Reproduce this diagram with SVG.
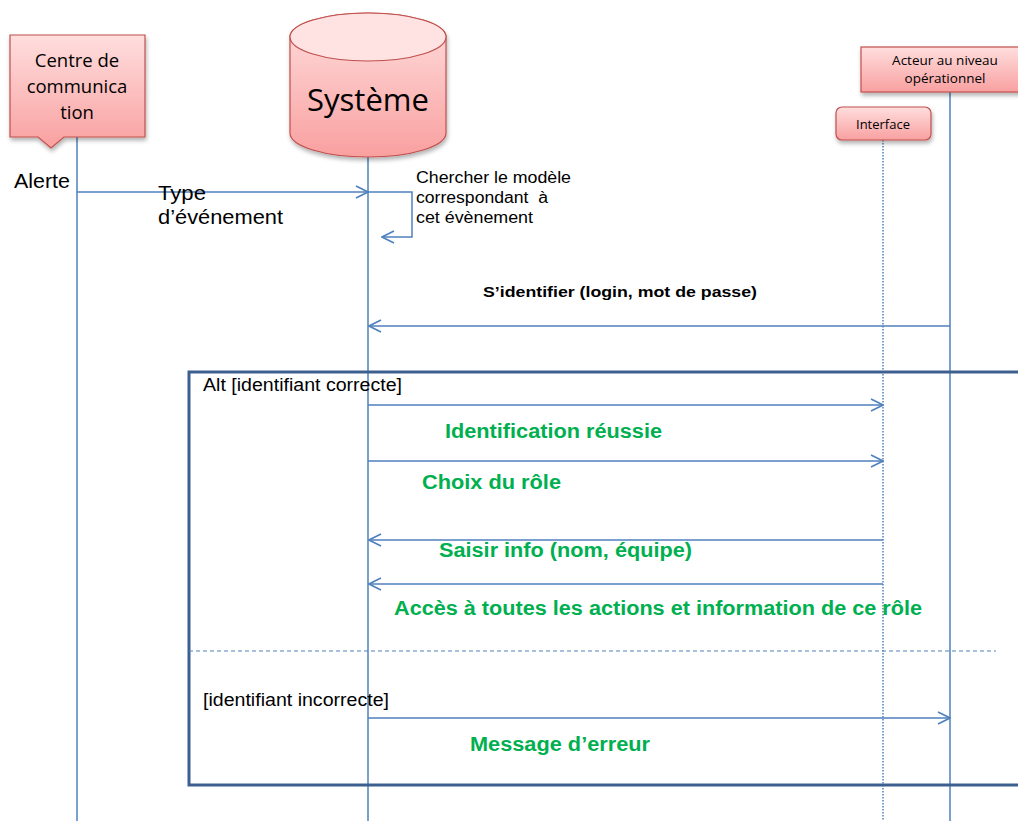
<svg xmlns="http://www.w3.org/2000/svg" width="1018" height="821" viewBox="0 0 1018 821">
<defs>
<linearGradient id="pink" x1="0" y1="0" x2="0" y2="1">
<stop offset="0" stop-color="#ffdede"/>
<stop offset="1" stop-color="#f9a0a0"/>
</linearGradient>
<filter id="sh" x="-20%" y="-20%" width="140%" height="150%">
<feDropShadow dx="1" dy="3" stdDeviation="2" flood-color="#000" flood-opacity="0.3"/>
</filter>
<marker id="arr" viewBox="0 0 14 14" refX="13" refY="7" markerWidth="14" markerHeight="14" markerUnits="userSpaceOnUse" orient="auto">
<path d="M1,1 L13,7 L1,13" fill="none" stroke="#4f81bd" stroke-width="1.6"/>
</marker>
<style>
.node{fill:url(#pink);stroke:#c0504d;stroke-width:1.2;filter:url(#sh)}
.cal{font-family:"Open Sans","Liberation Sans",sans-serif;fill:#000;text-anchor:middle}
.life{stroke:#4f81bd;stroke-width:1.5;fill:none}
.msg{stroke:#4f81bd;stroke-width:1.5;fill:none;marker-end:url(#arr)}
.t{font-family:"Liberation Sans",Arial,sans-serif;fill:#000}
.g{font-family:"Liberation Sans",Arial,sans-serif;fill:#00b050;font-weight:bold;font-size:19.5px}
</style>
</defs>
<rect width="1018" height="821" fill="#fff"/>

<g id="lifelines">
<line class="life" x1="77" y1="137" x2="77" y2="821"/>
<line class="life" x1="368" y1="157" x2="368" y2="821"/>
<line class="life" x1="883" y1="140" x2="883" y2="821" stroke-dasharray="1.5,1.5"/>
<line class="life" x1="950" y1="92" x2="950" y2="821"/>
</g>

<g id="centre">
<path class="node" d="M10,35 H145 V137 H64 L51,148 L38,137 H10 Z"/>
<text class="cal" x="77" y="67" font-size="18.5">Centre de</text>
<text class="cal" x="77" y="93" font-size="18.5">communica</text>
<text class="cal" x="77" y="119" font-size="18.5">tion</text>
</g>

<g id="systeme">
<path class="node" d="M290,37 A78,24 0 0 1 446,37 V133 A78,24 0 0 1 290,133 Z"/>
<ellipse cx="368" cy="37" rx="78" ry="24" fill="#ffe3e3" stroke="#c0504d" stroke-width="1.2"/>
<text class="cal" x="368" y="111" font-size="31">Système</text>
</g>

<g id="acteur">
<rect class="node" x="861" y="47" width="170" height="45"/>
<text class="cal" x="945" y="65" font-size="13.5">Acteur au niveau</text>
<text class="cal" x="945" y="83" font-size="13.5">opérationnel</text>
</g>

<g id="interface">
<rect class="node" x="836" y="107" width="95" height="33" rx="6"/>
<text class="cal" x="883" y="129" font-size="13">Interface</text>
</g>

<g id="frame">
<rect x="189" y="372" width="840" height="413" fill="none" stroke="#3d5f8f" stroke-width="3"/>
<line x1="189" y1="651" x2="996" y2="651" stroke="#4f81bd" stroke-width="1.2" stroke-dasharray="4,3"/>
<text class="t" x="203" y="391" font-size="17.5" textLength="199" lengthAdjust="spacingAndGlyphs">Alt [identifiant correcte]</text>
<text class="t" x="203" y="706" font-size="17.5" textLength="186" lengthAdjust="spacingAndGlyphs">[identifiant incorrecte]</text>
</g>

<g id="connectors">
<line class="msg" x1="77" y1="192" x2="368" y2="192"/>
<path class="msg" d="M368,192 H412 V237 H382"/>
<line class="msg" x1="950" y1="326" x2="369" y2="326"/>
<line class="msg" x1="368" y1="405" x2="883" y2="405"/>
<line class="msg" x1="368" y1="461" x2="883" y2="461"/>
<line class="msg" x1="883" y1="540" x2="369" y2="540"/>
<line class="msg" x1="883" y1="584" x2="369" y2="584"/>
<line class="msg" x1="368" y1="718" x2="950" y2="718"/>
</g>

<g id="labels">
<text class="t" x="14" y="188" font-size="20" textLength="56" lengthAdjust="spacingAndGlyphs">Alerte</text>
<text class="t" x="158" y="200" font-size="20" textLength="48" lengthAdjust="spacingAndGlyphs">Type</text>
<text class="t" x="158" y="224" font-size="20" textLength="125" lengthAdjust="spacingAndGlyphs">d’événement</text>
<text class="t" x="416" y="183" font-size="16" textLength="155" lengthAdjust="spacingAndGlyphs">Chercher le modèle</text>
<text class="t" x="416" y="203" font-size="16" textLength="132" lengthAdjust="spacingAndGlyphs">correspondant&#160; à</text>
<text class="t" x="416" y="223" font-size="16" textLength="117" lengthAdjust="spacingAndGlyphs">cet évènement</text>
<text class="t" x="483" y="297" font-size="15.5" font-weight="bold" textLength="274" lengthAdjust="spacingAndGlyphs">S’identifier (login, mot de passe)</text>
<text class="g" x="445" y="438" textLength="217" lengthAdjust="spacingAndGlyphs">Identification réussie</text>
<text class="g" x="422" y="489" textLength="139" lengthAdjust="spacingAndGlyphs">Choix du rôle</text>
<text class="g" x="439" y="557" textLength="253" lengthAdjust="spacingAndGlyphs">Saisir info (nom, équipe)</text>
<text class="g" x="394" y="615" textLength="528" lengthAdjust="spacingAndGlyphs">Accès à toutes les actions et information de ce rôle</text>
<text class="g" x="470" y="751" textLength="180" lengthAdjust="spacingAndGlyphs">Message d’erreur</text>
</g>
</svg>
